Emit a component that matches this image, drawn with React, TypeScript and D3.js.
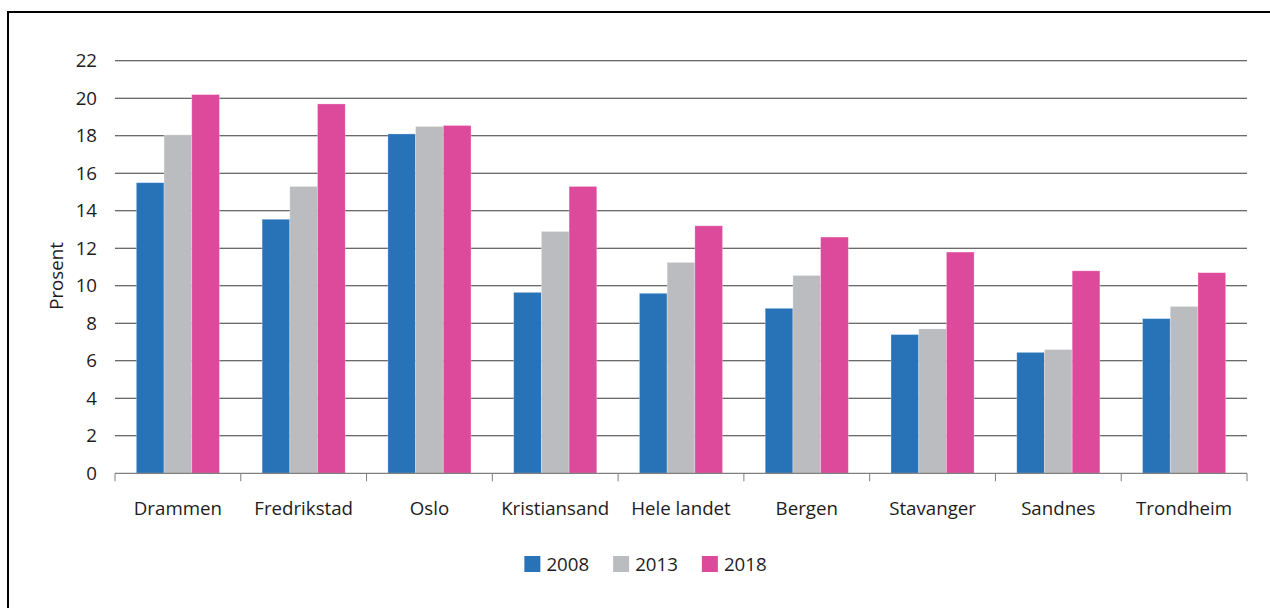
import React, { useEffect, useRef } from "react";
import * as d3 from "d3";

const categories = ["Drammen", "Fredrikstad", "Oslo", "Kristiansand", "Hele landet", "Bergen", "Stavanger", "Sandnes", "Trondheim"];
const years = ["2008", "2013", "2018"];
const values2008 = [15.5, 13.55, 18.1, 9.65, 9.6, 8.8, 7.4, 6.45, 8.25];
const values2013 = [18.05, 15.3, 18.5, 12.9, 11.25, 10.55, 7.7, 6.6, 8.9];
const values2018 = [20.2, 19.7, 18.55, 15.3, 13.2, 12.6, 11.8, 10.8, 10.7];
const yTicks = [0, 2, 4, 6, 8, 10, 12, 14, 16, 18, 20, 22];
const colors = ["#2873b8", "#bbbcbf", "#dd4a9b"];

const FONT = "'Open Sans', 'Noto Sans', sans-serif";
const FS = "18.7px";

const App = () => {
  const ref = useRef<SVGSVGElement>(null);

  useEffect(() => {
    drawChart();
  }, []);

  const drawChart = () => {
    const w = 1270;
    const h = 608;
    const svg = d3.select(ref.current);
    svg.selectAll("*").remove();

    const series = [values2008, values2013, values2018];

    // rammen rundt figuren (bare topp og venstre synlig)
    svg.append("path")
      .attr("d", `M8,${h} V12 H${w}`)
      .attr("fill", "none")
      .attr("stroke", "#000")
      .attr("stroke-width", 2);

    const x0 = d3.scaleBand().domain(categories).range([115, 1247]).padding(0);
    const x1 = d3.scaleBand().domain(years).range([0, x0.bandwidth()]).paddingInner(0).paddingOuter(0.77);
    const y = d3.scaleLinear().domain([0, 22]).range([473.3, 60.8]);

    // rutenett
    svg.append("g")
      .selectAll("line")
      .data(yTicks.filter(d => d > 0))
      .enter()
      .append("line")
      .attr("x1", 115)
      .attr("x2", 1247)
      .attr("y1", d => y(d))
      .attr("y2", d => y(d))
      .attr("stroke", "#3a3a3a")
      .attr("stroke-width", 1.1);

    // y-akse tekst
    svg.append("g")
      .selectAll("text")
      .data(yTicks)
      .enter()
      .append("text")
      .attr("x", 97)
      .attr("y", d => y(d) + 6.5)
      .attr("text-anchor", "end")
      .attr("font-family", FONT)
      .attr("font-size", FS)
      .attr("fill", "#1e1b1c")
      .text(d => d);

    svg.append("text")
      .attr("transform", "translate(63,276) rotate(-90)")
      .attr("text-anchor", "middle")
      .attr("font-family", FONT)
      .attr("font-size", FS)
      .attr("fill", "#1e1b1c")
      .text("Prosent");

    // søyler
    const groups = svg.append("g")
      .selectAll("g")
      .data(categories)
      .enter()
      .append("g")
      .attr("transform", d => `translate(${x0(d)},0)`);

    groups.selectAll("rect")
      .data((d, i) => years.map((yr, j) => ({ yr, v: series[j][i], c: colors[j] })))
      .enter()
      .append("rect")
      .attr("x", d => x1(d.yr) as number)
      .attr("y", d => y(d.v))
      .attr("width", x1.bandwidth())
      .attr("height", d => y(0) - y(d.v))
      .attr("fill", d => d.c)
      .attr("stroke", "#ffffff")
      .attr("stroke-opacity", 0.35)
      .attr("stroke-width", 0.8);

    // x-akse
    const xAxis = svg.append("g");
    xAxis.append("line")
      .attr("x1", 115)
      .attr("x2", 1247)
      .attr("y1", y(0))
      .attr("y2", y(0))
      .attr("stroke", "#7f7f7f")
      .attr("stroke-width", 1.3);
    const bounds = categories.map(c => x0(c) as number).concat([x0.range()[1]]);
    xAxis.selectAll("line.tick")
      .data(bounds)
      .enter()
      .append("line")
      .attr("class", "tick")
      .attr("x1", d => d)
      .attr("x2", d => d)
      .attr("y1", y(0))
      .attr("y2", y(0) + 8)
      .attr("stroke", "#7f7f7f")
      .attr("stroke-width", 1);
    xAxis.selectAll("text")
      .data(categories)
      .enter()
      .append("text")
      .attr("x", d => (x0(d) as number) + x0.bandwidth() / 2)
      .attr("y", 515)
      .attr("text-anchor", "middle")
      .attr("font-family", FONT)
      .attr("font-size", FS)
      .attr("fill", "#1e1b1c")
      .text(d => d);

    // forklaring
    const legend = svg.append("g");
    const gap = 24;
    let lx = 0;
    years.forEach((yr, j) => {
      const g = legend.append("g");
      g.append("rect")
        .attr("x", 0)
        .attr("y", 556)
        .attr("width", 16)
        .attr("height", 16)
        .attr("fill", colors[j]);
      const t = g.append("text")
        .attr("x", 22)
        .attr("y", 570.5)
        .attr("font-family", FONT)
        .attr("font-size", FS)
        .attr("fill", "#1e1b1c")
        .text(yr);
      const tw = (t.node() as SVGTextElement).getComputedTextLength();
      g.attr("transform", `translate(${lx},0)`);
      lx += 22 + tw + gap;
    });
    const total = lx - gap;
    legend.attr("transform", `translate(${(523 + 768) / 2 - total / 2},0)`);
  };

  return (
    <svg ref={ref} width={1270} height={608} style={{ position: "absolute", left: 0, top: 0, background: "#fff" }} />
  );
};

export default App;
